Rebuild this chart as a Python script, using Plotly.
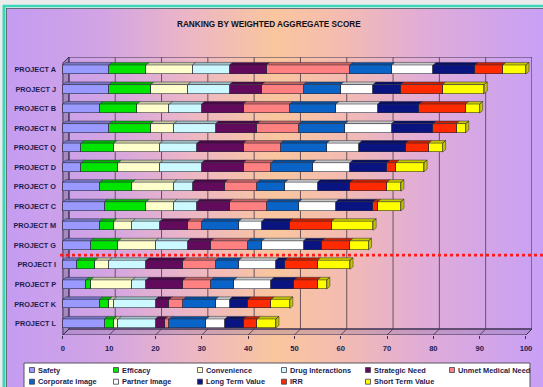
import base64
import plotly.graph_objects as go

# ---- data -------------------------------------------------------------
projects = ["PROJECT A", "PROJECT J", "PROJECT B", "PROJECT N", "PROJECT Q",
            "PROJECT D", "PROJECT O", "PROJECT C", "PROJECT M", "PROJECT G",
            "PROJECT I", "PROJECT P", "PROJECT K", "PROJECT L"]

criteria = ["Safety", "Efficacy", "Convenience", "Drug Interactions",
            "Strategic Need", "Unmet Medical Need", "Corporate Image",
            "Partner Image", "Long Term Value", "IRR", "Short Term Value"]

safety        = [10, 10, 8, 10, 4, 4, 8, 9, 8, 6, 3, 5, 8, 9]
efficacy      = [8, 9, 8, 9, 7, 8, 7, 9, 3, 6, 4, 1, 2, 2]
convenience   = [10, 8, 7, 5, 10, 9, 9, 6, 4, 8, 3, 9, 1, 1]
drug_inter    = [8, 9, 7, 9, 8, 9, 4, 5, 6, 7, 8, 3, 9, 8]
strategic     = [8, 7, 9, 9, 10, 9, 7, 7, 6, 5, 8, 8, 3, 2]
unmet_need    = [18, 9, 10, 9, 8, 6, 7, 8, 3, 8, 7, 6, 3, 1]
corporate_img = [9, 8, 10, 10, 10, 9, 6, 7, 8, 3, 5, 5, 7, 8]
partner_img   = [9, 7, 9, 10, 7, 8, 7, 8, 5, 9, 8, 8, 3, 4]
long_term     = [9, 6, 9, 9, 10, 8, 7, 8, 6, 4, 2, 5, 4, 4]
irr           = [6, 9, 10, 5, 5, 2, 8, 1, 9, 6, 7, 5, 5, 3]
short_term    = [5, 9, 3, 2, 3, 6, 3, 5, 9, 4, 7, 2, 4, 4]

series_values = [safety, efficacy, convenience, drug_inter, strategic,
                 unmet_need, corporate_img, partner_img, long_term, irr,
                 short_term]

colors = ["#9999ff", "#00e600", "#ffffcc", "#ccf8ff", "#620a5c", "#ff8080",
          "#0a64c8", "#ffffff", "#0a1480", "#ff2a00", "#ffff00"]

cutoff_after = "PROJECT G"   # red dotted line drawn below this project
x_ticks = list(range(0, 101, 10))

# ---- geometry helpers -------------------------------------------------
W, H = 543, 387
L_PX, R_PX, T_PX, B_PX = 62, 532, 57, 335           # plot area in pixels
X_MIN, X_MAX = -0.2, 101.3
Y_MIN, Y_MAX = -0.59, 13.64
ux = (R_PX - L_PX) / (X_MAX - X_MIN)                # px per x unit
uy = (B_PX - T_PX) / (Y_MAX - Y_MIN)                # px per y unit

def px(x):
    return (x - L_PX) / (R_PX - L_PX)

def py(y):
    return (B_PX - y) / (B_PX - T_PX)

n = len(projects)
ypos = [n - 1 - i for i in range(n)]               # top project highest
bar_w = 0.46
wall_dx, wall_dy = 6 / ux, 6 / uy                   # depth of the chart box
bar_dx, bar_dy = 3 / ux, 2.6 / uy                   # depth of the bars


def shade(hex_color, f):
    h = hex_color.lstrip("#")
    r, g, b = (int(h[i:i + 2], 16) for i in (0, 2, 4))
    return "#%02x%02x%02x" % (int(r * f), int(g * f), int(b * f))


fig = go.Figure()

# ---- stacked bars -----------------------------------------------------
for name, vals, col in zip(criteria, series_values, colors):
    fig.add_trace(go.Bar(
        y=ypos, x=vals, name=name, orientation="h", width=bar_w,
        marker=dict(color=col, line=dict(color="#2a2a3a", width=0.6)),
        showlegend=False, hoverinfo="x+name"))

# top faces (and end face) giving the bars their depth
starts = [0] * n
for k, (name, vals, col) in enumerate(zip(criteria, series_values, colors)):
    xs, ys = [], []
    for i in range(n):
        x0, x1 = starts[i], starts[i] + vals[i]
        yt = ypos[i] + bar_w / 2
        if vals[i] > 0:
            xs += [x0, x1, x1 + bar_dx, x0 + bar_dx, x0, None]
            ys += [yt, yt, yt + bar_dy, yt + bar_dy, yt, None]
        if k == len(criteria) - 1:
            yb = ypos[i] - bar_w / 2
            xs += [x1, x1 + bar_dx, x1 + bar_dx, x1, x1, None]
            ys += [yb, yb + bar_dy, yt + bar_dy, yt, yb, None]
        starts[i] = x1
    fig.add_trace(go.Scatter(
        x=xs, y=ys, mode="lines", fill="toself",
        fillcolor=shade(col, 0.78), line=dict(color="#2a2a3a", width=0.5),
        hoverinfo="skip", showlegend=False))

# ---- chart box: back wall, gridlines, floor, left wall ------------------
box_line = "#3a3050"
grid_col = "#6a5058"
y_front = Y_MIN
shapes = []
shapes.append(dict(type="rect", xref="x", yref="y", layer="below",
                   x0=wall_dx, x1=100 + wall_dx, y0=y_front + wall_dy, y1=Y_MAX,
                   line=dict(color=box_line, width=1), fillcolor="rgba(0,0,0,0)"))
for v in x_ticks[1:-1]:
    shapes.append(dict(type="line", xref="x", yref="y", layer="below",
                       x0=v + wall_dx, x1=v + wall_dx,
                       y0=y_front + wall_dy, y1=Y_MAX,
                       line=dict(color=grid_col, width=1)))
floor_path = "M {a},{b} L {c},{b} L {d},{e} L {f},{e} Z".format(
    a=0, b=y_front, c=100, d=100 + wall_dx, e=y_front + wall_dy, f=wall_dx)
shapes.append(dict(type="path", xref="x", yref="y", layer="below", path=floor_path,
                   fillcolor="rgba(110,90,140,0.25)", line=dict(color=box_line, width=1)))
for v in x_ticks:
    shapes.append(dict(type="line", xref="x", yref="y", layer="below",
                       x0=v, x1=v + wall_dx, y0=y_front, y1=y_front + wall_dy,
                       line=dict(color=box_line, width=0.8)))
left_wall = "M {a},{b} L {c},{d} L {c},{e} L {a},{f} Z".format(
    a=0, b=y_front, c=wall_dx, d=y_front + wall_dy, e=Y_MAX, f=Y_MAX - wall_dy)
shapes.append(dict(type="path", xref="x", yref="y", layer="below", path=left_wall,
                   fillcolor="rgba(120,110,140,0.45)", line=dict(color=box_line, width=1)))

# red dotted cut-off line between ranked groups
cut_y = ypos[projects.index(cutoff_after)] - 0.5
shapes.append(dict(type="line", xref="paper", yref="y", layer="above",
                   x0=px(60), x1=px(W), y0=cut_y, y1=cut_y,
                   line=dict(color="#ff1a1a", width=2.8, dash="dot")))

# outer frame
shapes.append(dict(type="line", xref="paper", yref="paper", x0=px(4), x1=px(4),
                   y0=py(5), y1=py(H + 2), line=dict(color="#3ad8b8", width=3)))
shapes.append(dict(type="line", xref="paper", yref="paper", x0=px(3), x1=px(W + 2),
                   y0=py(6), y1=py(6), line=dict(color="#3ad8b8", width=2.5)))
shapes.append(dict(type="line", xref="paper", yref="paper", x0=px(6.5), x1=px(6.5),
                   y0=py(8), y1=py(H + 2), line=dict(color="#6a6a78", width=1)))
shapes.append(dict(type="line", xref="paper", yref="paper", x0=px(6.5), x1=px(W + 2),
                   y0=py(8.5), y1=py(8.5), line=dict(color="#6a6a78", width=1)))

# ---- legend box -------------------------------------------------------
text_col = "#1c1c50"
shapes.append(dict(type="rect", xref="paper", yref="paper", layer="above",
                   x0=px(24), x1=px(530), y0=py(363), y1=py(H + 5),
                   fillcolor="#ffffff", line=dict(color="#555560", width=1)))
annotations = []
for k, (name, col) in enumerate(zip(criteria, colors)):
    row, c = divmod(k, 6)
    mx = 32 + 84 * c
    my = 370 + 11.7 * row
    shapes.append(dict(type="rect", xref="paper", yref="paper", layer="above",
                       x0=px(mx - 2.5), x1=px(mx + 2.5), y0=py(my - 2.5), y1=py(my + 2.5),
                       fillcolor=col, line=dict(color="#404050", width=0.8)))
    annotations.append(dict(xref="paper", yref="paper", x=px(mx + 3.5), y=py(my),
                            xanchor="left", yanchor="middle", showarrow=False,
                            text=name,
                            font=dict(family="Liberation Sans", size=7.4,
                                      color=text_col, weight="bold")))

annotations.append(dict(xref="paper", yref="paper", x=px(268.5), y=py(24),
                        xanchor="center", yanchor="middle", showarrow=False,
                        text="RANKING BY WEIGHTED AGGREGATE SCORE",
                        font=dict(family="Liberation Sans", size=8.2,
                                  color="#101018", weight="bold")))

# ---- background gradient ----------------------------------------------
svg = (
    '<svg xmlns="http://www.w3.org/2000/svg" width="543" height="387">'
    '<defs><linearGradient id="g" x1="0" y1="0" x2="1" y2="0">'
    '<stop offset="0" stop-color="#c49cf2"/>'
    '<stop offset="0.18" stop-color="#d2a4e4"/>'
    '<stop offset="0.34" stop-color="#ecb6c6"/>'
    '<stop offset="0.5" stop-color="#f9c69e"/>'
    '<stop offset="0.62" stop-color="#f4bcb0"/>'
    '<stop offset="0.78" stop-color="#e0acd8"/>'
    '<stop offset="1" stop-color="#c8a0f6"/>'
    '</linearGradient></defs>'
    '<rect width="543" height="387" fill="url(#g)"/></svg>'
)
bg_src = "data:image/svg+xml;base64," + base64.b64encode(svg.encode()).decode()

fig.update_layout(
    width=W, height=H,
    margin=dict(l=L_PX, r=W - R_PX, t=T_PX, b=H - B_PX, pad=0),
    paper_bgcolor="#ebebeb", plot_bgcolor="rgba(0,0,0,0)",
    barmode="stack", bargap=0,
    shapes=shapes, annotations=annotations,
    images=[dict(source=bg_src, xref="paper", yref="paper",
                 x=px(6), y=py(8), sizex=(W - 6) / (R_PX - L_PX),
                 sizey=(H - 8) / (B_PX - T_PX), xanchor="left", yanchor="top",
                 sizing="stretch", layer="below")],
    showlegend=False,
    xaxis=dict(range=[X_MIN, X_MAX], tickvals=x_ticks, showgrid=False,
               zeroline=False, showline=False, ticks="outside", ticklen=3,
               tickcolor=box_line, ticklabelstandoff=3,
               tickfont=dict(family="Liberation Sans", size=7.6, color=text_col,
                             weight="bold")),
    yaxis=dict(range=[Y_MIN, Y_MAX], tickvals=ypos, ticktext=projects,
               showgrid=False, zeroline=False, showline=False, ticks="",
               ticklabelstandoff=5,
               tickfont=dict(family="Liberation Sans", size=7.3, color=text_col,
                             weight="bold")),
)

fig.write_html("out.html")
